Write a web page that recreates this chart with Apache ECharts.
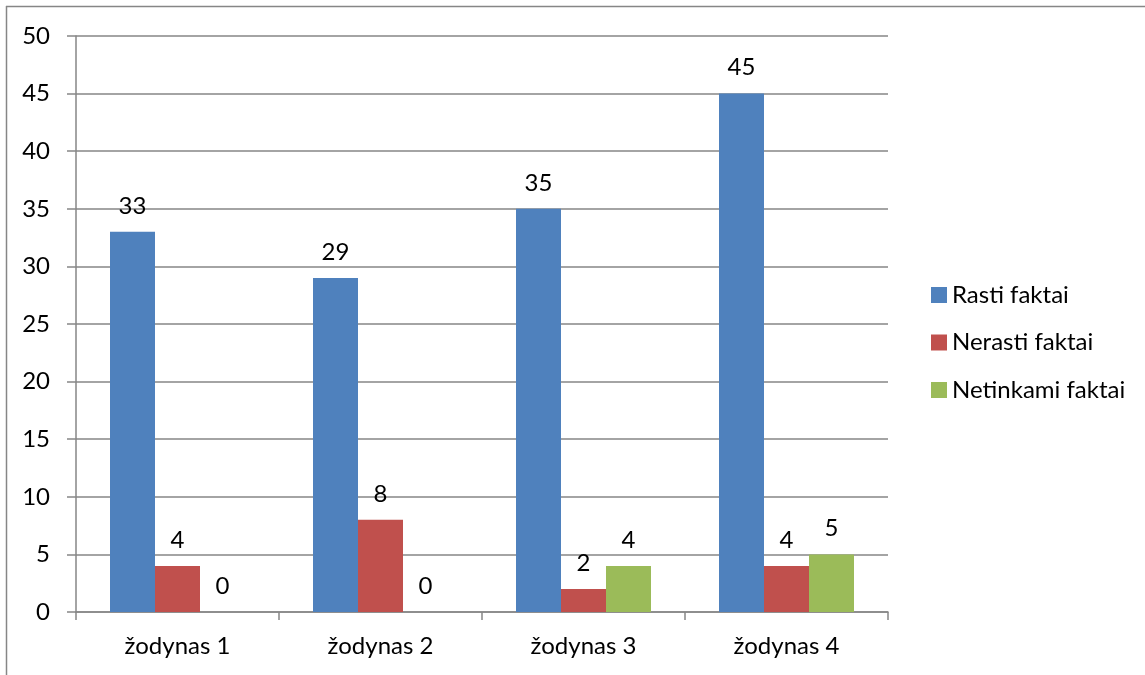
<!DOCTYPE html>
<html><head><meta charset="utf-8">
<script src="https://cdn.jsdelivr.net/npm/echarts@6/dist/echarts.min.js"></script>
<style>html,body{margin:0;padding:0;background:#fff}#c{width:1145px;height:675px}</style>
</head><body><div id="c"></div>
<script>
const categories = ['žodynas 1', 'žodynas 2', 'žodynas 3', 'žodynas 4'];
const rasti = [33, 29, 35, 45];
const nerasti = [4, 8, 2, 4];
const netinkami = [0, 0, 4, 5];
const seriesNames = ['Rasti faktai', 'Nerasti faktai', 'Netinkami faktai'];
const colors = ['#4F81BD', '#C0504D', '#9BBB59'];
const FONT = 'Lato, "Noto Sans", sans-serif';
const FS = 24;
const chart = echarts.init(document.getElementById('c'));
const mk = (name, data, color) => ({
  name, type: 'bar', data, barGap: '0%', barCategoryGap: '33.5%',
  itemStyle: { color },
  label: { show: true, position: 'top', distance: 14, color: '#000', fontSize: FS, fontFamily: FONT }
});
chart.setOption({
  animation: false,
  textStyle: { fontFamily: FONT },
  grid: { left: 76, top: 36, right: 257, bottom: 63 },
  legend: {
    orient: 'vertical', left: 926, top: 278, itemWidth: 16, itemHeight: 16, itemGap: 23.5,
    icon: 'rect', textStyle: { fontSize: FS, color: '#000', fontFamily: FONT },
    data: seriesNames
  },
  xAxis: {
    type: 'category', data: categories,
    axisLine: { lineStyle: { color: '#868686', width: 1.5 } },
    axisTick: { show: true, length: 8, lineStyle: { color: '#868686', width: 1.5 } },
    axisLabel: { color: '#000', fontSize: FS, margin: 22, fontFamily: FONT }
  },
  yAxis: {
    type: 'value', min: 0, max: 50, interval: 5,
    axisLine: { show: true, lineStyle: { color: '#868686', width: 1.5 } },
    axisTick: { show: true, length: 9, lineStyle: { color: '#868686', width: 1.5 } },
    splitLine: { lineStyle: { color: '#868686', width: 1.5 } },
    axisLabel: { color: '#000', fontSize: FS, margin: 26, fontFamily: FONT }
  },
  graphic: [
    { type: 'line', shape: { x1: 6, y1: 6.5, x2: 1145, y2: 6.5 }, style: { stroke: '#868686', lineWidth: 1.5 } },
    { type: 'line', shape: { x1: 6.5, y1: 6, x2: 6.5, y2: 675 }, style: { stroke: '#868686', lineWidth: 1.5 } }
  ],
  series: [
    mk(seriesNames[0], rasti, colors[0]),
    mk(seriesNames[1], nerasti, colors[1]),
    mk(seriesNames[2], netinkami, colors[2])
  ]
});
</script></body></html>
